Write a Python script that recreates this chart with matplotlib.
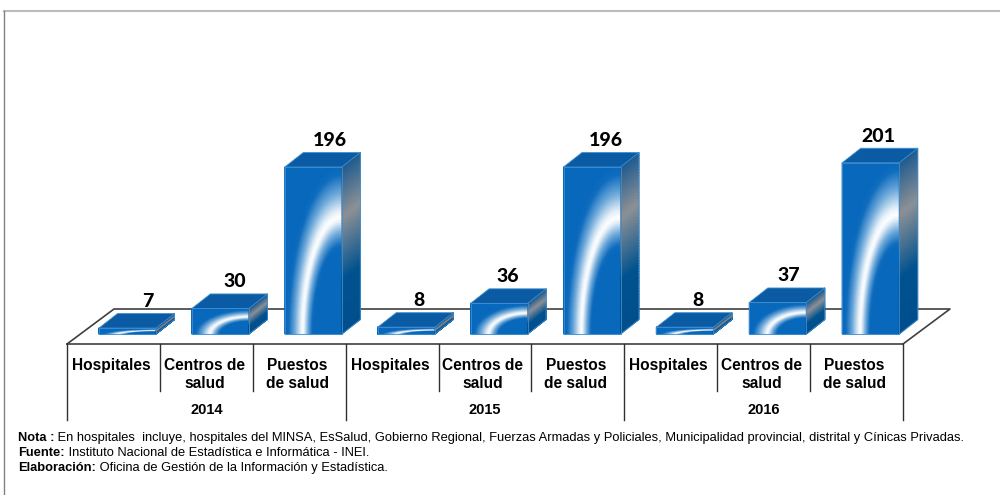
import numpy as np
import matplotlib
matplotlib.use("Agg")
import matplotlib.pyplot as plt
from matplotlib.colors import LinearSegmentedColormap

years = ["2014", "2015", "2016"]
categories = ["Hospitales", "Centros de\nsalud", "Puestos\nde salud"]
values = [7, 30, 196, 8, 36, 196, 8, 37, 201]
label_shift = [20, 14, 17, 13, 9, 14, 13, 11, 8]
notes = [
    ("Nota :", " En hospitales  incluye, hospitales del MINSA, EsSalud, Gobierno Regional, Fuerzas Armadas y Policiales, Municipalidad provincial, distrital y Cínicas Privadas."),
    ("Fuente:", " Instituto Nacional de Estadística e Informática - INEI."),
    ("Elaboración:", " Oficina de Gestión de la Información y Estadística."),
]

# pixel scale of the picture
W, H = 1000, 495
px_x = 92.9     # pixels per bar slot
px_y = 0.852    # pixels per unit
x0_px = 127.5   # centre of first bar
y0_px = 334     # baseline of the bars

bar_w = 57 / px_x
depth_x = 18.5 / px_x
depth_y = 14.5 / px_y
floor_front = -10 / px_y
floor_back = 25 / px_y
n = len(values)

blue_white = LinearSegmentedColormap.from_list(
    "bw", [(0, "#FFFFFF"), (0.12, "#E8F2FA"), (0.45, "#6FAADB"), (0.8, "#0F6DBE"), (1, "#0868BC")])
side_map = LinearSegmentedColormap.from_list(
    "side", [(0, "#004F8C"), (0.32, "#00528F"), (0.7, "#8E9195"), (1, "#1F5C8F")])

fig = plt.figure(figsize=(W / 100, H / 100), dpi=100)
ax = fig.add_axes([0, 0, 1, 1])
ax.set_xlim(-x0_px / px_x, (W - x0_px) / px_x)
ax.set_ylim(-(H - y0_px) / px_y, y0_px / px_y)
ax.axis("off")


def dx(p):
    return p / px_x


def dy(p):
    return p / px_y


# frame, only top and left are visible
x_min, x_max = ax.get_xlim()
y_min = ax.get_ylim()[0]
frame_x = x_min + dx(3.5)
frame_y = dy(y0_px - 11)
ax.plot([frame_x, x_max], [frame_y, frame_y], color="#BDBDBD", lw=1.5, zorder=1)
ax.plot([frame_x, frame_x], [y_min, frame_y], color="#808080", lw=1, zorder=1)

# floor
fl = x_min + dx(67)
fr = x_min + dx(903)
slot = (fr - fl) / n
ax.plot([fl, fl + dx(47), fr + dx(47), fr], [floor_front, floor_back, floor_back, floor_front],
        color="#404040", lw=1.2, zorder=2)
ax.plot([fl, fr], [floor_front, floor_front], color="#404040", lw=1.2, zorder=2)

# separators under the floor
for i in range(n + 1):
    bottom = dy(-86) if i % 3 == 0 else dy(-57)
    ax.plot([fl + i * slot] * 2, [floor_front, bottom], color="#303030", lw=1, zorder=2)

# bars
for i, v in enumerate(values):
    left = i - bar_w / 2
    right = i + bar_w / 2

    # front face, white arc centred on the lower right corner
    u = np.linspace(0, 1, 60)
    t = np.linspace(0, 1, 90)
    U, T = np.meshgrid(u, t)
    r = np.sqrt(((1 - U) / 0.68) ** 2 + (T / 0.70) ** 2)
    d = np.abs(r - 1) / np.where(r > 1, 0.46, 0.30)
    X = left + U * (right - left)
    Y = T * v
    ax.pcolormesh(X, Y, np.clip(d, 0, 1), cmap=blue_white, vmin=0, vmax=1, shading="gouraud", zorder=3)

    # side face
    s = np.linspace(0, 1, 60)
    US, TS = np.meshgrid(np.linspace(0, 1, 2), s)
    XS = right + US * depth_x
    YS = TS * v + US * depth_y
    ax.pcolormesh(XS, YS, TS, cmap=side_map, vmin=0, vmax=1, shading="gouraud", zorder=3)

    # top face
    ax.fill([left, right, right + depth_x, left + depth_x], [v, v, v + depth_y, v + depth_y],
            color="#0A5BA3", ec="#3F8FD0", lw=0.6, zorder=4)
    ax.plot([left, right, right, left, left], [0, 0, v, v, 0], color="#3C8ED2", lw=0.6, zorder=4)
    ax.plot([right, right + depth_x, right + depth_x], [0, depth_y, v + depth_y], color="#3C8ED2", lw=0.6, zorder=4)

    ax.text(i + dx(label_shift[i]), v + depth_y + dy(12), str(v), ha="center", va="center", fontsize=14,
            fontfamily="Lato", fontweight=900, color="black", zorder=5)

    # category labels
    ax.text(fl + (i + 0.5) * slot - dx(2), dy(-24), categories[i % 3], ha="center", va="top", fontsize=11.2,
            fontfamily="Liberation Sans", fontweight="bold", linespacing=1.25, zorder=5)

for g, year in enumerate(years):
    ax.text(fl + (3 * g + 1.5) * slot, dy(-75.5), year, ha="center", va="center", fontsize=10.5,
            fontfamily="Liberation Sans", fontweight="bold", zorder=5)

# notes
note_x = x_min + dx(18)
renderer = fig.canvas.get_renderer()
for k, (head, body) in enumerate(notes):
    y = dy(y0_px - (438 + k * 15))
    t = ax.text(note_x, y, head, fontsize=9.32, fontfamily="Liberation Sans", fontweight="bold", va="center", zorder=5)
    bb = t.get_window_extent(renderer)
    ax.text(note_x + dx(bb.width), y, body, fontsize=9.32, fontfamily="Liberation Sans", va="center", zorder=5)

fig.savefig("out.png", dpi=100)
